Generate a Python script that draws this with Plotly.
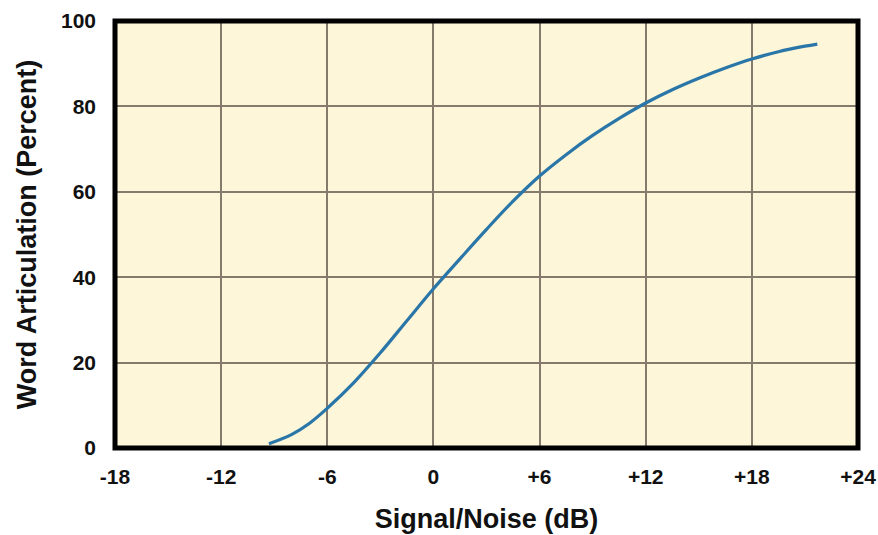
import plotly.graph_objects as go

# Data
snr_db = [-9.3, -8, -7, -6, -4.5, -3, -1.5, 0, 1.5, 3, 4.5, 6, 7.5, 9, 10.5, 12, 13.5, 15, 16.5, 18, 19.5, 21, 21.7]
articulation = [1, 3.2, 5.8, 9.3, 15.3, 22.3, 29.8, 37.3, 44.3, 51.2, 57.8, 63.7, 68.7, 73.2, 77.2, 80.8, 83.9, 86.6, 89.0, 91.1, 92.8, 94.1, 94.6]

x_tickvals = [-18, -12, -6, 0, 6, 12, 18, 24]
x_ticktext = ["-18", "-12", "-6", "0", "+6", "+12", "+18", "+24"]
y_tickvals = [0, 20, 40, 60, 80, 100]

font_family = "Liberation Sans, Arial, sans-serif"

fig = go.Figure()
fig.add_trace(go.Scatter(
    x=snr_db, y=articulation, mode="lines",
    line=dict(color="#2a76a8", width=3.2, shape="spline", smoothing=1.0),
    hoverinfo="skip", showlegend=False,
))

fig.update_layout(
    width=878, height=535,
    margin=dict(l=115, r=20, t=21, b=87),
    paper_bgcolor="white",
    plot_bgcolor="#fdf6d8",
    font=dict(family=font_family, color="#111111", weight="bold"),
    xaxis=dict(
        range=[-18, 24], tickvals=x_tickvals, ticktext=x_ticktext,
        showgrid=True, gridcolor="#857a6c", gridwidth=1.5,
        zeroline=False, showline=False, ticks="",
        ticklabelstandoff=14, automargin=False,
        tickfont=dict(size=21, family=font_family, weight="bold"),
        title=dict(text="Signal/Noise (dB)", standoff=22,
                   font=dict(size=27, family=font_family, weight="bold")),
        fixedrange=True,
    ),
    yaxis=dict(
        range=[0, 100], tickvals=y_tickvals,
        showgrid=True, gridcolor="#857a6c", gridwidth=1.5,
        zeroline=False, showline=False, ticks="",
        ticklabelstandoff=18, automargin=False,
        tickfont=dict(size=21, family=font_family, weight="bold"),
        title=dict(text="Word Articulation (Percent)", standoff=16,
                   font=dict(size=27, family=font_family, weight="bold")),
        fixedrange=True,
    ),
    shapes=[dict(type="rect", xref="paper", yref="paper", x0=0, y0=0, x1=1, y1=1,
                 line=dict(color="black", width=5), layer="above")],
)

fig.write_html(
    "out.html",
    config={"displayModeBar": False},
    post_script="document.body.style.margin='0';document.body.style.overflow='hidden';",
)
